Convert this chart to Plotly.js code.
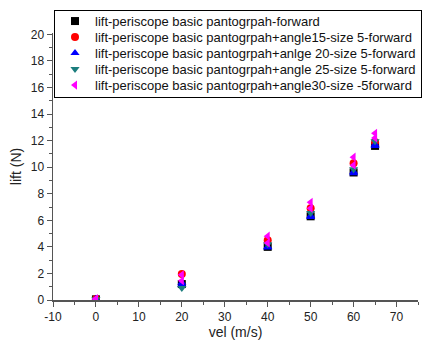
<!DOCTYPE html>
<html>
<head>
<meta charset="utf-8">
<script src="https://cdn.plot.ly/plotly-3.0.1.min.js"></script>
<style>html,body{margin:0;padding:0;background:#fff;}#chart{width:422px;height:342px;}</style>
</head>
<body>
<div id="chart"></div>
<script>
var names = [
  "lift-periscope basic pantogrpah-forward",
  "lift-periscope basic pantogrpah+angle15-size 5-forward",
  "lift-periscope basic pantogrpah+anlge 20-size 5-forward",
  "lift-periscope basic pantogrpah+angle 25-size 5-forward",
  "lift-periscope basic pantogrpah+angle30-size -5forward"
];
var vel = [0, 20, 40, 50, 60, 65];
var velRepeat = [0, 0, 20, 20, 40, 40, 50, 50, 60, 60, 65, 65];
var liftBasic   = [0.05, 1.2, 4.0, 6.3, 9.6, 11.6];
var liftAngle15 = [0.08, 1.95, 4.5, 6.9, 10.3, 11.9];
var liftAngle20 = [0.1, 0.05, 1.3, 1.15, 4.0, 3.95, 6.35, 6.25, 9.65, 9.55, 11.7, 11.6];
var liftAngle25 = [0.05, 0.9, 4.2, 6.55, 9.85, 11.95];
var liftAngle30 = [0.05, 0.1, 1.9, 1.45, 4.8, 4.3, 7.35, 6.9, 10.75, 10.15, 12.55, 12.2];

var xTickVals = [-10, 0, 10, 20, 30, 40, 50, 60, 70];
var xTickText = ["-10", "0", "10", "20", "30", "40", "50", "60", "70"];

var colors = ["#000000", "#ff0000", "#0000ff", "#1b7d7d", "#ff00ff"];
var symbols = ["square", "circle", "triangle-up", "triangle-down", "triangle-left"];
var xs = [vel, vel, velRepeat, vel, velRepeat];
var ys = [liftBasic, liftAngle15, liftAngle20, liftAngle25, liftAngle30];

var traces = names.map(function(n, i) {
  return {
    type: "scatter", mode: "markers", name: n,
    x: xs[i], y: ys[i],
    marker: {symbol: symbols[i], color: colors[i], size: 8, line: {width: 0}}
  };
});

var FONT = "Liberation Sans, Arial, sans-serif";
var axisCommon = {
  showgrid: false, zeroline: false, showline: true,
  linecolor: "#555555", linewidth: 1.5,
  ticks: "outside", ticklen: 5, tickwidth: 1, tickcolor: "#555555",
  tickfont: {family: FONT, size: 12, color: "#222"},
  minor: {ticks: "outside", ticklen: 3, tickcolor: "#555555", tickwidth: 1}
};

var layout = {
  width: 422, height: 342,
  margin: {l: 53, r: 4, t: 33, b: 42},
  paper_bgcolor: "#fff", plot_bgcolor: "#fff",
  font: {family: FONT, color: "#222"},
  xaxis: Object.assign({}, axisCommon, {
    range: [-10, 75], tickmode: "array", tickvals: xTickVals, ticktext: xTickText,
    minor: Object.assign({}, axisCommon.minor, {tick0: -10, dtick: 5}),
    title: {text: "vel (m/s)", font: {size: 14, color: "#222"}, standoff: 3}
  }),
  yaxis: Object.assign({}, axisCommon, {
    range: [0, 20.1], tick0: 0, dtick: 2,
    minor: Object.assign({}, axisCommon.minor, {dtick: 1}),
    title: {text: "lift (N)", font: {size: 14, color: "#222"}, standoff: 6}
  }),
  showlegend: true,
  legend: {
    x: 0.008, y: 1.086, xanchor: "left", yanchor: "top",
    bordercolor: "#000", borderwidth: 1, bgcolor: "rgba(255,255,255,1)",
    font: {family: FONT, size: 13, color: "#111"},
    tracegroupgap: 0
  }
};

Plotly.newPlot("chart", traces, layout, {displayModeBar: false, staticPlot: true}).then(function(gd) {
  // tighten legend row spacing to match the reference
  var leg = gd.querySelector(".legend");
  if (!leg) return;
  var items = leg.querySelectorAll(".traces");
  var step = 16, first = 11;
  items.forEach(function(it, i) {
    var tr = it.getAttribute("transform") || "";
    var m = tr.match(/translate\(([-\d.]+)[ ,]+([-\d.]+)\)/);
    var x = m ? m[1] : 0;
    it.setAttribute("transform", "translate(" + x + "," + (first + i * step) + ")");
  });
  var bg = leg.querySelector("rect.bg");
  if (bg) bg.setAttribute("height", first + (items.length - 1) * step + 12);
});
</script>
</body>
</html>
